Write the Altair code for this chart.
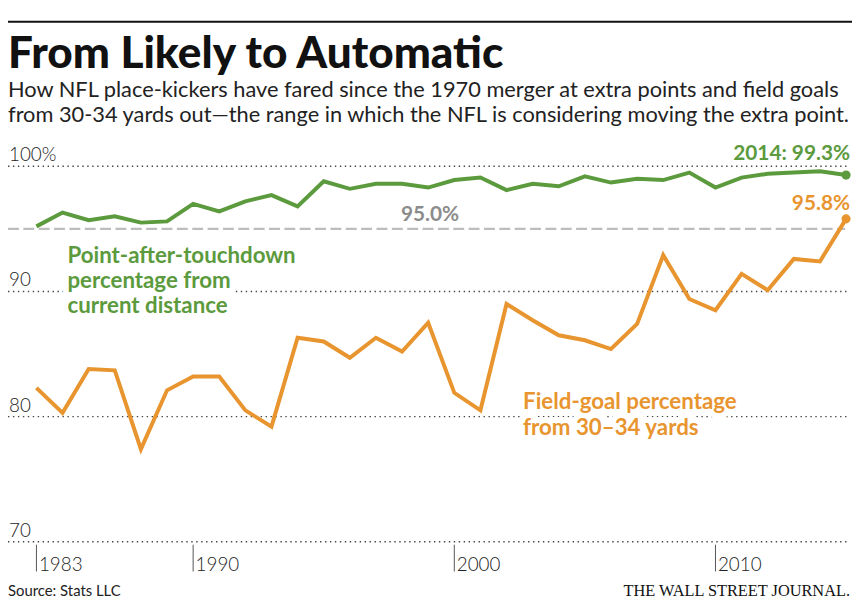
import altair as alt
import pandas as pd

years = list(range(1983, 2015))
pat_pct = [95.2, 96.3, 95.7, 96.0, 95.5, 95.6, 97.0, 96.4, 97.2, 97.7, 96.8, 98.8, 98.2, 98.6, 98.6, 98.3,
           98.9, 99.1, 98.1, 98.6, 98.4, 99.2, 98.7, 99.0, 98.9, 99.5, 98.3, 99.1, 99.4, 99.5, 99.6, 99.3]
fg_pct = [82.3, 80.3, 83.8, 83.7, 77.4, 82.1, 83.2, 83.2, 80.5, 79.2, 86.3, 86.0, 84.7, 86.3, 85.2, 87.5,
          81.9, 80.5, 89.0, 87.7, 86.5, 86.1, 85.4, 87.4, 92.9, 89.4, 88.5, 91.4, 90.1, 92.6, 92.4, 95.8]
series_names = ["Point-after-touchdown", "Field goal 30-34 yds"]
grid_values = [70, 80, 90, 100]
grid_labels = ["70", "80", "90", "100%"]
tick_pos = [1983, 1989, 1999, 2009]
tick_labels = ["1983", "1990", "2000", "2010"]
threshold = [95.0]

GREEN = "#5c9a3e"
ORANGE = "#e8952f"
GRAY = "#8c8c8c"
LATO = "Lato"

df = pd.DataFrame({
    "year": years * 2,
    "value": pat_pct + fg_pct,
    "series": [series_names[0]] * len(years) + [series_names[1]] * len(years),
})
last = pd.DataFrame({
    "year": [years[-1], years[-1]],
    "value": [pat_pct[-1], fg_pct[-1]],
    "series": series_names,
    "label": [f"{years[-1]}: {pat_pct[-1]}%", f"{fg_pct[-1]}%"],
})
grid_df = pd.DataFrame({"v": grid_values, "lab": grid_labels})
tick_df = pd.DataFrame({"pos": tick_pos, "lab": tick_labels})
thr_df = pd.DataFrame({"v": threshold, "lab": [f"{threshold[0]:.1f}%"]})

xscale = alt.Scale(domain=[years[0], years[-1]], range=[28.7, 846])
yscale = alt.Scale(domain=[70, 100], range=[536, 157])
cscale = alt.Scale(domain=series_names, range=[GREEN, ORANGE])


def text(t, x, y, size, color, font, weight="normal", align="left", halo=False):
    kw = dict(align=align, baseline="alphabetic", font=font, fontSize=size, fontWeight=weight)
    if halo:
        kw.update(color="white", stroke="white", strokeWidth=12, strokeJoin="round")
    else:
        kw.update(color=color)
    return alt.Chart(pd.DataFrame({"t": [t]})).mark_text(**kw).encode(
        x=alt.value(x), y=alt.value(y), text="t:N")


top_rule = alt.Chart(pd.DataFrame({"a": [0]})).mark_rule(color="#111", strokeWidth=2).encode(
    x=alt.value(0), x2=alt.value(852), y=alt.value(11))

grid = alt.Chart(grid_df).mark_rule(color="#444", strokeWidth=1.4, strokeDash=[1.4, 3.6]).encode(
    y=alt.Y("v:Q", scale=yscale, axis=None), x=alt.value(0), x2=alt.value(848))
grid_text = alt.Chart(grid_df).mark_text(align="left", baseline="alphabetic", dy=-5, font=LATO,
                                         fontWeight=300, fontSize=19, color="#222").encode(
    y=alt.Y("v:Q", scale=yscale, axis=None), x=alt.value(1), text="lab:N")

thr = alt.Chart(thr_df).mark_rule(color="#bdbdbd", strokeWidth=2.2, strokeDash=[11, 4.5]).encode(
    y=alt.Y("v:Q", scale=yscale, axis=None), x=alt.value(0), x2=alt.value(845))
thr_text = alt.Chart(thr_df).mark_text(align="center", baseline="alphabetic", dy=-8, font=LATO,
                                       fontWeight="bold", fontSize=21, color=GRAY).encode(
    y=alt.Y("v:Q", scale=yscale, axis=None), x=alt.value(426), text="lab:N")

ticks = alt.Chart(tick_df).mark_rule(color="#555", strokeWidth=1).encode(
    x=alt.X("pos:Q", scale=xscale, axis=None), y=alt.value(539), y2=alt.value(566))
tick_text = alt.Chart(tick_df).mark_text(align="left", baseline="alphabetic", dx=2.5, font=LATO,
                                         fontWeight=300, fontSize=19, color="#222").encode(
    x=alt.X("pos:Q", scale=xscale, axis=None), y=alt.value(566), text="lab:N")

lines = alt.Chart(df).mark_line(strokeWidth=4).encode(
    x=alt.X("year:Q", scale=xscale, axis=None),
    y=alt.Y("value:Q", scale=yscale, axis=None),
    color=alt.Color("series:N", scale=cscale, legend=None),
)
dots = alt.Chart(last).mark_circle(size=85, opacity=1).encode(
    x=alt.X("year:Q", scale=xscale, axis=None),
    y=alt.Y("value:Q", scale=yscale, axis=None),
    color=alt.Color("series:N", scale=cscale, legend=None),
)


def end_label(name, dy):
    return alt.Chart(last).transform_filter(alt.datum.series == name).mark_text(
        align="right", baseline="alphabetic", dx=4, dy=dy, font=LATO, fontWeight="bold", fontSize=21
    ).encode(
        x=alt.X("year:Q", scale=xscale, axis=None),
        y=alt.Y("value:Q", scale=yscale, axis=None),
        color=alt.Color("series:N", scale=cscale, legend=None),
        text="label:N",
    )


end_texts = [end_label(series_names[0], -15), end_label(series_names[1], -9)]

green_lines = ["Point-after-touchdown", "percentage from", "current distance"]
orange_lines = ["Field-goal percentage", "from 30\u201334 yards"]
annot = []
for halo in (True, False):
    for i, t in enumerate(green_lines):
        annot.append(text(t, 60, 255 + 25 * i, 22.5, GREEN, LATO, "bold", halo=halo))
    for i, t in enumerate(orange_lines):
        annot.append(text(t, 520, 402 + 26.5 * i, 22.5, ORANGE, LATO, "bold", halo=halo))

title = text("From Likely to Automatic", 0, 58, 44.5, "#111", LATO, 900)
sub1 = text("How NFL place-kickers have fared since the 1970 merger at extra points and field goals",
            0, 87, 22, "#222", LATO)
sub2 = text("from 30-34 yards out\u2014the range in which the NFL is considering moving the extra point.",
            0, 112, 22, "#222", LATO)
source = text("Source: Stats LLC", 0, 591, 15, "#222", LATO)
wsj = text("THE WALL STREET JOURNAL.", 850, 591, 16.5, "#111", "Liberation Serif", align="right")

chart = alt.layer(
    top_rule, grid, thr, *annot, grid_text, thr_text, ticks, tick_text,
    lines, dots, *end_texts, title, sub1, sub2, source, wsj,
).properties(
    width=852, height=592,
    autosize=alt.AutoSizeParams(type="none"),
    padding={"left": 0, "top": 0, "right": 0, "bottom": 0},
).configure_view(strokeWidth=0)

chart.save("out.html", embed_options={"renderer": "svg", "actions": False})
